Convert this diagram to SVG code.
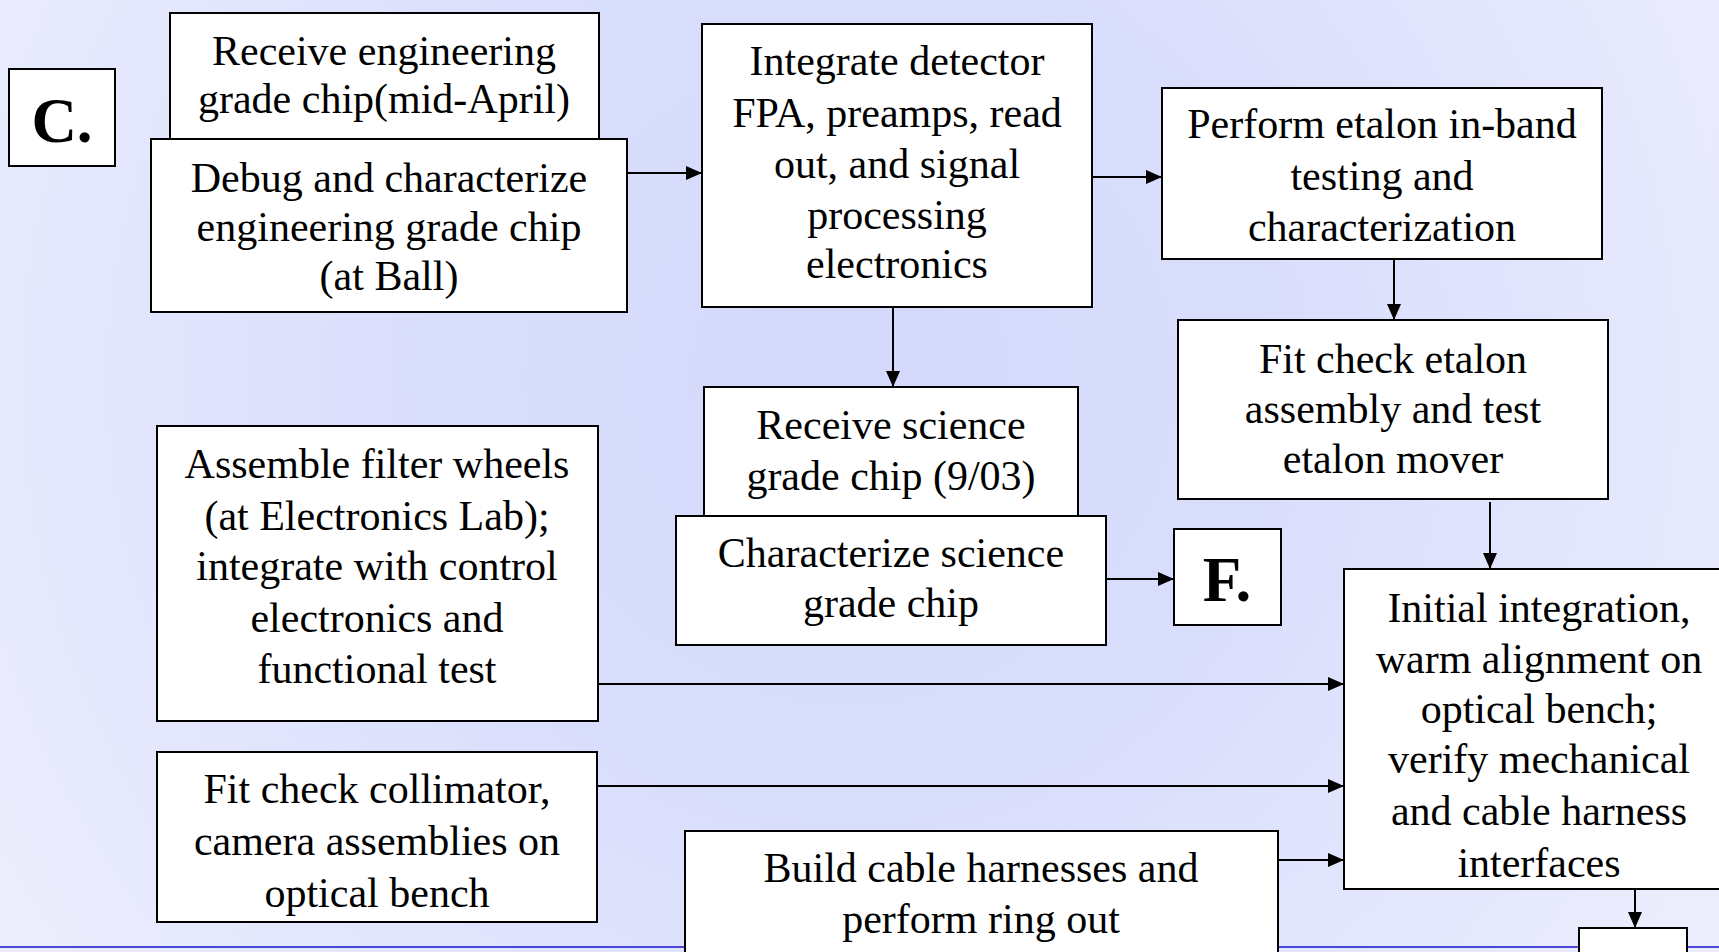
<svg xmlns="http://www.w3.org/2000/svg" width="1719" height="952" viewBox="0 0 1719 952">
  <defs>
    <radialGradient id="bg" gradientUnits="userSpaceOnUse" cx="850" cy="380" r="980">
      <stop offset="0" stop-color="#d4d9fb"/>
      <stop offset="0.45" stop-color="#d9defc"/>
      <stop offset="1" stop-color="#ebedfd"/>
    </radialGradient>
    <marker id="arrow" markerUnits="userSpaceOnUse" markerWidth="16" markerHeight="14" refX="16" refY="7" orient="auto">
      <path d="M0,0 L16,7 L0,14 Z" fill="#000"/>
    </marker>
    <style>
      .box { fill: #fff; stroke: #000; stroke-width: 2; }
      .lbl { font-family: "Liberation Serif", "Times New Roman", serif; font-size: 42px; fill: #000; text-anchor: middle; }
      .tag { font-family: "Liberation Serif", "Times New Roman", serif; font-size: 63px; font-weight: bold; fill: #000; text-anchor: middle; }
      .conn { fill: none; stroke: #000; stroke-width: 2; marker-end: url(#arrow); }
    </style>
  </defs>

  <!-- slide background -->
  <rect x="0" y="0" width="1719" height="952" fill="url(#bg)"/>
  <line x1="0" y1="947" x2="1719" y2="947" stroke="#4848d8" stroke-width="2"/>

  <!-- connectors -->
  <g id="connectors">
    <path class="conn" d="M627,173 H702"/>
    <path class="conn" d="M1092,177 H1162"/>
    <path class="conn" d="M1394,259 V320"/>
    <path class="conn" d="M893,307 V387"/>
    <path class="conn" d="M1106,579 H1174"/>
    <path class="conn" d="M1490,502 V569"/>
    <path class="conn" d="M598,684 H1344"/>
    <path class="conn" d="M597,786 H1344"/>
    <path class="conn" d="M1278,860 H1344"/>
    <path class="conn" d="M1635,889 V928"/>
  </g>

  <g id="node-c">
    <rect class="box" x="9" y="69" width="106" height="97"/>
    <text class="tag" x="62" y="142">C.</text>
  </g>

  <g id="node-receive-eng">
    <rect class="box" x="170" y="13" width="429" height="126"/>
    <text class="lbl" x="384" y="65">Receive engineering</text>
    <text class="lbl" x="384" y="113">grade chip(mid-April)</text>
  </g>

  <g id="node-debug">
    <rect class="box" x="151" y="139" width="476" height="173"/>
    <text class="lbl" x="389" y="192">Debug and characterize</text>
    <text class="lbl" x="389" y="241">engineering grade chip</text>
    <text class="lbl" x="389" y="290">(at Ball)</text>
  </g>

  <g id="node-integrate">
    <rect class="box" x="702" y="24" width="390" height="283"/>
    <text class="lbl" x="897" y="75">Integrate detector</text>
    <text class="lbl" x="897" y="127">FPA, preamps, read</text>
    <text class="lbl" x="897" y="178">out, and signal</text>
    <text class="lbl" x="897" y="229">processing</text>
    <text class="lbl" x="897" y="278">electronics</text>
  </g>

  <g id="node-perform">
    <rect class="box" x="1162" y="88" width="440" height="171"/>
    <text class="lbl" x="1382" y="138">Perform etalon in-band</text>
    <text class="lbl" x="1382" y="190">testing and</text>
    <text class="lbl" x="1382" y="241">characterization</text>
  </g>

  <g id="node-fit-etalon">
    <rect class="box" x="1178" y="320" width="430" height="179"/>
    <text class="lbl" x="1393" y="373">Fit check etalon</text>
    <text class="lbl" x="1393" y="423">assembly and test</text>
    <text class="lbl" x="1393" y="473">etalon mover</text>
  </g>

  <g id="node-receive-sci">
    <rect class="box" x="704" y="387" width="374" height="129"/>
    <text class="lbl" x="891" y="439">Receive science</text>
    <text class="lbl" x="891" y="490">grade chip (9/03)</text>
  </g>

  <g id="node-characterize-sci">
    <rect class="box" x="676" y="516" width="430" height="129"/>
    <text class="lbl" x="891" y="567">Characterize science</text>
    <text class="lbl" x="891" y="617">grade chip</text>
  </g>

  <g id="node-f">
    <rect class="box" x="1174" y="529" width="107" height="96"/>
    <text class="tag" x="1227" y="601">F.</text>
  </g>

  <g id="node-filter-wheels">
    <rect class="box" x="157" y="426" width="441" height="295"/>
    <text class="lbl" x="377" y="478">Assemble filter wheels</text>
    <text class="lbl" x="377" y="530">(at Electronics Lab);</text>
    <text class="lbl" x="377" y="580">integrate with control</text>
    <text class="lbl" x="377" y="632">electronics and</text>
    <text class="lbl" x="377" y="683">functional test</text>
  </g>

  <g id="node-collimator">
    <rect class="box" x="157" y="752" width="440" height="170"/>
    <text class="lbl" x="377" y="803">Fit check collimator,</text>
    <text class="lbl" x="377" y="855">camera assemblies on</text>
    <text class="lbl" x="377" y="907">optical bench</text>
  </g>

  <g id="node-cable">
    <rect class="box" x="685" y="831" width="593" height="140"/>
    <text class="lbl" x="981" y="882">Build cable harnesses and</text>
    <text class="lbl" x="981" y="933">perform ring out</text>
  </g>

  <g id="node-initial">
    <rect class="box" x="1344" y="569" width="390" height="320"/>
    <text class="lbl" x="1539" y="622">Initial integration,</text>
    <text class="lbl" x="1539" y="673">warm alignment on</text>
    <text class="lbl" x="1539" y="723">optical bench;</text>
    <text class="lbl" x="1539" y="773">verify mechanical</text>
    <text class="lbl" x="1539" y="825">and cable harness</text>
    <text class="lbl" x="1539" y="877">interfaces</text>
  </g>

  <g id="node-next">
    <rect class="box" x="1579" y="928" width="108" height="40"/>
  </g>
</svg>
